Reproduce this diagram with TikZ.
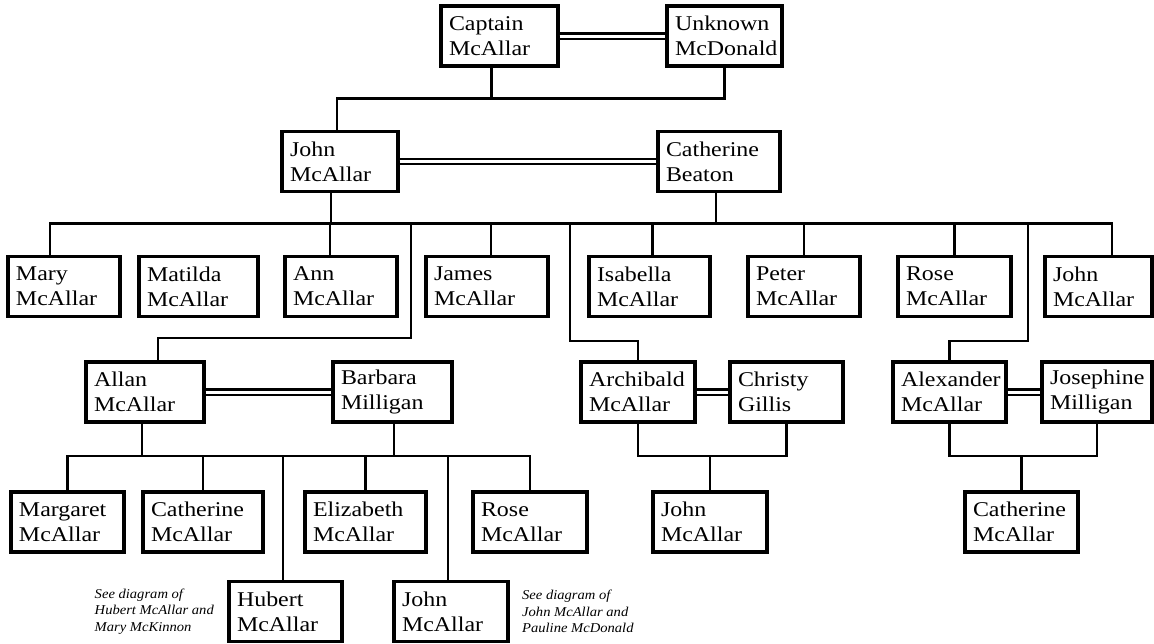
\documentclass[tikz,border=0pt]{standalone}
\usepackage{fontspec}
\setmainfont{Liberation Serif}[FakeStretch=1.14]
\newfontfamily\notefam{Liberation Serif}[FakeStretch=1.08]
\usepackage{tikz}
\usetikzlibrary{positioning, calc}
\tikzset{person/.style={draw, line width=3.2pt, minimum height=60pt, inner xsep=8pt, inner ysep=0pt, outer sep=0pt, text width={#1pt-16pt}, align=left, font=\fontsize{21}{25}\selectfont}}
\tikzstyle{link} = [line width=2.8pt]
\tikzstyle{wed} = [double, double distance=3pt, line width=2.2pt, shorten <=1.6pt, shorten >=1.6pt]
\tikzstyle{note} = [align=left, inner sep=0pt, font=\notefam\itshape\fontsize{13.5}{16.5}\selectfont]

\begin{document}
\begin{tikzpicture}[x=1pt, y=-1pt]
        \useasboundingbox[fill=white] (0,0) rectangle (1154,643);

        % Captain and wife
        \node[person=117] (captain) at (499.5,36) {Captain\\McAllar};
        \node[person=115] (unknown) at (724.5,36) {Unknown\\McDonald};
        \draw[wed] (captain) -- (unknown);

        % John and Catherine
        \node[person=116] (john) at (340,161.5) {John\\McAllar};
        \node[person=122] (beaton) at (719,161.5) {Catherine\\Beaton};
        \draw[wed] (john) -- (beaton);
        \draw[link] (captain.south) ++(-8,0) -- ++(0,33);
        \draw[link] (john.north) ++(-3,0) -- ++(0,-33) -| (unknown.south);

        % Their children
        \node[person=112] (mary) at (64,286.5) {Mary\\McAllar};
        \node[person=119] (matilda) at (198.5,286.5) {Matilda\\McAllar};
        \node[person=112] (ann) at (341,286.5) {Ann\\McAllar};
        \node[person=122] (james) at (487,286.5) {James\\McAllar};
        \node[person=121] (isabella) at (649.5,286.5) {Isabella\\McAllar};
        \node[person=112] (peter) at (804,286.5) {Peter\\McAllar};
        \node[person=113] (rose) at (954.5,286.5) {Rose\\McAllar};
        \node[person=107] (john_c) at (1098.5,286.5) {John\\McAllar};

        \draw[link] (mary.north) ++(-14,0) -- ++(0,-33) -- ++(1062,0) -- ++(0,33);
        \draw[link] (john.south) ++(-9,0) -- ++(0,32);
        \draw[link] (beaton.south) ++(-3,0) -- ++(0,32);
        \draw[link] (ann.north) ++(-11,0) -- ++(0,-33);
        \draw[link] (james.north) ++(4,0) -- ++(0,-33);
        \draw[link] (isabella.north) ++(3,0) -- ++(0,-33);
        \draw[link] (peter.north) -- ++(0,-33);
        \draw[link] (rose.north) -- ++(0,-33);

        % Married sons
        \node[person=118] (allan) at (145,392) {Allan\\McAllar};
        \node[person=119] (barbara) at (392.5,392) {Barbara\\Milligan};
        \node[person=114] (archibald) at (638,392) {Archibald\\McAllar};
        \node[person=113] (christy) at (786.5,392) {Christy\\Gillis};
        \node[person=113] (alexander) at (949.5,392) {Alexander\\McAllar};
        \node[person=110] (josephine) at (1097,392) {Josephine\\Milligan};
        \draw[wed] (allan) -- (barbara);
        \draw[wed] (archibald) -- (christy);
        \draw[wed] (alexander) -- (josephine);

        \draw[link] (allan.north) ++(13,0) -- ++(0,-24) -- ++(253,0) -- ++(0,-115);
        \draw[link] (archibald.north) -- ++(0,-21) -- ++(-68,0) -- ++(0,-118);
        \draw[link] (alexander.north) -- ++(0,-21) -- ++(78.5,0) -- ++(0,-118);

        % Grandchildren
        \node[person=113] (margaret) at (67.5,522) {Margaret\\McAllar};
        \node[person=120] (catherine_a) at (203,522) {Catherine\\McAllar};
        \node[person=121] (elizabeth) at (365.5,522) {Elizabeth\\McAllar};
        \node[person=114] (rose_a) at (530,522) {Rose\\McAllar};
        \node[person=113] (hubert) at (285.5,611.5) {Hubert\\McAllar};
        \node[person=114] (john_a) at (451,611.5) {John\\McAllar};
        \node[person=114] (john_ar) at (710,522) {John\\McAllar};
        \node[person=113] (catherine_x) at (1021.5,522) {Catherine\\McAllar};

        \draw[link] (margaret.north) -- ++(0,-36) -| (rose_a.north);
        \draw[link] (allan.south) ++(-3,0) -- ++(0,34);
        \draw[link] (barbara.south) ++(1.5,0) -- ++(0,34);
        \draw[link] (catherine_a.north) -- ++(0,-36);
        \draw[link] (elizabeth.north) -- ++(0,-36);
        \draw[link] (hubert.north) ++(-2.5,0) -- ++(0,-126);
        \draw[link] (john_a.north) ++(-3,0) -- ++(0,-126);

        \draw[link] (archibald.south) -- ++(0,34) -| (christy.south);
        \draw[link] (john_ar.north) -- ++(0,-36);
        \draw[link] (alexander.south) -- ++(0,34) -| (josephine.south);
        \draw[link] (catherine_x.north) -- ++(0,-36);

        % Cross references
        \node[note, left=15pt of hubert] (note_hubert) {See diagram of\\Hubert McAllar and\\Mary McKinnon};
        \node[note, right=14pt of john_a] (note_john) {See diagram of\\John McAllar and\\Pauline McDonald};

    \end{tikzpicture}
\end{document}
